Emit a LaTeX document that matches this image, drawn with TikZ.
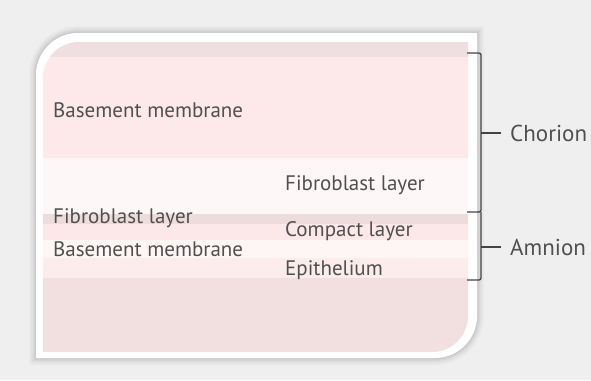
\documentclass[tikz,border=0pt]{standalone}
\usepackage{fontspec}
\setmainfont{PT Sans}
\definecolor{bg}{HTML}{EFEFEF}
\definecolor{txt}{HTML}{505050}
\definecolor{bandA}{HTML}{F0DFE0}
\definecolor{bandB}{HTML}{FDE9EA}
\definecolor{bandC}{HTML}{FDF8F7}
\definecolor{bandD}{HTML}{EEDCDC}
\definecolor{bandE}{HTML}{FCE8E9}
\definecolor{bandF}{HTML}{FDF6F5}
\definecolor{bandG}{HTML}{FCECEC}
\definecolor{bandH}{HTML}{F2E0E0}
\definecolor{brk}{HTML}{444444}
\tikzset{
  lbl/.style={anchor=west, inner sep=0pt, text=txt, font=\fontsize{21}{24}\selectfont},
  side/.style={anchor=west, inner sep=0pt, text=txt, font=\fontsize{23}{26}\selectfont},
  bracket/.style={draw=brk, line width=1.3pt}
}
\begin{document}
\begin{tikzpicture}[x=1pt,y=-1pt]
\fill[bg] (0,0) rectangle (591,380);
% shadow
\foreach \o/\a in {7/0.025,5/0.035,3/0.045,1.5/0.05}{
  \fill[black,opacity=\a] (36-\o,75) arc (180:270:42+\o) -- (477+\o,33-\o) -- (477+\o,316) arc (0:90:42+\o) -- (36-\o,358+\o) -- cycle;
}
% card
\fill[white] (36,75) arc (180:270:42) -- (477,33) -- (477,316) arc (0:90:42) -- (36,358) -- cycle;
% bands clipped to inner shape
\begin{scope}
\clip (43,78) arc (180:270:36) -- (468,42) -- (468,316) arc (0:90:36) -- (43,352) -- cycle;
\fill[bandA] (40,40) rectangle (470,57);
\fill[bandB] (40,57) rectangle (470,158);
\fill[bandC] (40,158) rectangle (470,214);
\fill[bandD] (40,214) rectangle (470,224);
\fill[bandE] (40,224) rectangle (470,240);
\fill[bandF] (40,240) rectangle (470,258);
\fill[bandG] (40,258) rectangle (470,278);
\fill[bandH] (40,278) rectangle (470,355);
\end{scope}
% labels
\node[lbl] (bm1) at (53,110) {Basement membrane};
\node[lbl] (fb1) at (285,185) {Fibroblast layer};
\node[lbl] (fb2) at (53,218) {Fibroblast layer};
\node[lbl] (cl) at (285,231) {Compact layer};
\node[lbl] (bm2) at (53,249) {Basement membrane};
\node[lbl] (ep) at (285,270) {Epithelium};
\node[side] (ch) at (510,133) {Chorion};
\node[side] (am) at (510,247) {Amnion};
% brackets
\coordinate (c1) at (467,53);
\coordinate (c2) at (467,212);
\coordinate (cm) at (481,133);
\coordinate (a2) at (467,280);
\coordinate (amm) at (481,247);
\draw[bracket,rounded corners=2pt] (c1) -- (481,53) -- (481,212) -- (c2);
\draw[bracket,rounded corners=2pt] (481,212) -- (481,280) -- (a2);
\draw[bracket] (cm) -- ([xshift=-9pt]ch.west);
\draw[bracket] (amm) -- ([xshift=-9pt]am.west);
\end{tikzpicture}
\end{document}
